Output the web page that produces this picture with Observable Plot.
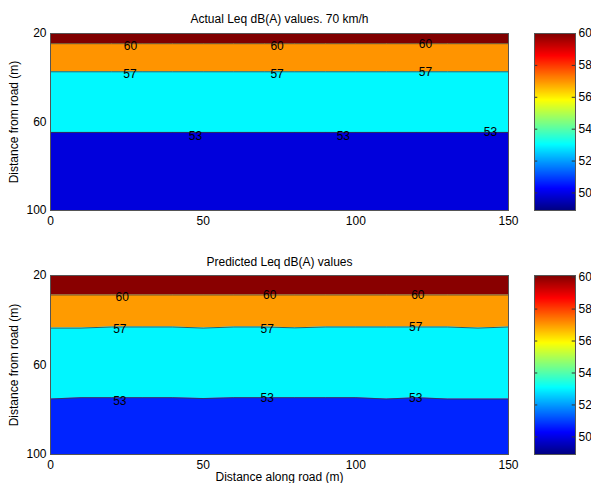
<!DOCTYPE html>
<html><head><meta charset="utf-8">
<script src="https://cdn.jsdelivr.net/npm/d3@7"></script>
<script src="https://cdn.jsdelivr.net/npm/@observablehq/plot@0.6"></script>
<style>
html,body{margin:0;padding:0;background:#fff;}
#wrap{position:relative;width:591px;height:483px;overflow:hidden;font-family:"Liberation Sans",Arial,sans-serif;}
#wrap svg{position:absolute;}
</style></head><body><div id="wrap"></div>
<script>
// ---- data ----
const roadX = [0,10,20,30,40,50,60,70,80,90,100,110,120,130,140,150];

const actualB60 = [24.6,24.6,24.6,24.6,24.6,24.6,24.6,24.6,24.6,24.6,24.6,24.6,24.6,24.6,24.6,24.6];
const actualB57 = [37.3,37.3,37.3,37.3,37.3,37.3,37.3,37.3,37.3,37.3,37.3,37.3,37.3,37.3,37.3,37.3];
const actualB53 = [64.7,64.7,64.7,64.7,64.7,64.7,64.7,64.7,64.7,64.7,64.7,64.7,64.7,64.7,64.7,64.7];
const actualBandLevels = [60, 57, 53, 49.9];

const predB60 = [28.7,28.7,28.7,28.7,28.7,28.7,28.7,28.7,28.7,28.7,28.7,28.7,28.7,28.7,28.7,28.7];
const predB57 = [43.5,43.5,43.0,43.0,43.0,43.5,43.0,43.0,43.4,43.0,43.0,43.0,43.0,43.0,43.5,43.0];
const predB53 = [75.2,74.6,74.6,74.6,74.6,75.0,74.6,74.6,74.6,74.6,74.6,75.2,74.6,75.2,75.2,75.2];
const predBandLevels = [60, 57, 53, 50.7];

const contourLevels = [60, 57, 53];

const actualLabelX = [26.2,74.2,122.8, 26.0,74.2,122.8, 47.5,95.9,144.1];
const actualLabelY = [25.9,25.9,24.8, 38.3,38.3,37.4, 66.3,66.3,64.5];
const actualLabelText = ["60","60","60","57","57","57","53","53","53"];

const predLabelX = [23.5,71.8,120.3, 22.7,71.0,119.6, 22.7,71.0,119.6];
const predLabelY = [29.8,28.6,28.7, 44.2,44.2,43.2, 76.2,75.0,75.0];
const predLabelText = ["60","60","60","57","57","57","53","53","53"];

const xTicks = [0, 50, 100, 150];
const yTicks = [20, 60, 100];
const cbTicks = [50, 52, 54, 56, 58, 60];
const actualRange = [48.9, 60.0];
const predRange = [48.9, 60.1];
const jetStops = [0, 0.125, 0.375, 0.625, 0.875, 1];
const jetColors = ["#000080", "#0000ff", "#00ffff", "#ffff00", "#ff0000", "#800000"];

const titleTop = "Actual Leq dB(A) values. 70 km/h";
const titleBottom = "Predicted Leq dB(A) values";
const yLabel = "Distance from road (m)";
const xLabel = "Distance along road (m)";

// ---- helpers ----
const FONT = "'Liberation Sans', Arial, sans-serif";
function colorScale(range) {
  const [lo, hi] = range;
  return {type: "linear", domain: jetStops.map(s => lo + s * (hi - lo)), range: jetColors, interpolate: "rgb"};
}
function buildBands(b60, b57, b53, levels) {
  const top = roadX.map(() => 20), bottom = roadX.map(() => 100);
  const bounds = [top, b60, b57, b53, bottom];
  const rows = [];
  for (let k = 0; k < 4; k++) roadX.forEach((x, i) => rows.push({band: k, x, y1: bounds[k][i], y2: bounds[k + 1][i], level: levels[k]}));
  return rows;
}
function buildLines(b60, b57, b53) {
  const rows = [];
  [b60, b57, b53].forEach((b, j) => roadX.forEach((x, i) => rows.push({level: contourLevels[j], x, y: b[i]})));
  return rows;
}
function mainChart({height, mt, mb, range, b60, b57, b53, levels, lx, ly, lt, title, titleDy, withXLabel}) {
  const labels = lx.map((x, i) => ({x, y: ly[i], t: lt[i]}));
  const marks = [
    Plot.areaY(buildBands(b60, b57, b53, levels), {x: "x", y1: "y1", y2: "y2", z: "band", fill: "level"}),
    Plot.line(buildLines(b60, b57, b53), {x: "x", y: "y", z: "level", stroke: "#3a3a3a", strokeWidth: 0.8}),
    Plot.text(labels, {x: "x", y: "y", text: "t", fill: "black", fontSize: 12}),
    Plot.frame({stroke: "#555"}),
    Plot.axisX({ticks: xTicks, tickSize: 0, tickPadding: 6, label: null, fontSize: 12}),
    Plot.axisY({ticks: yTicks, tickSize: 0, tickPadding: 4, label: null, fontSize: 12}),
    Plot.text([title], {text: d => d, frameAnchor: "top", dy: titleDy, lineAnchor: "middle", fontSize: 12, fill: "black"}),
    Plot.text([yLabel], {text: d => d, frameAnchor: "left", dx: -36, rotate: -90, textAnchor: "middle", lineAnchor: "middle", fontSize: 12, fill: "black"})
  ];
  if (withXLabel) marks.push(Plot.text([xLabel], {text: d => d, frameAnchor: "bottom", dy: 23, lineAnchor: "middle", fontSize: 12, fill: "black"}));
  return Plot.plot({
    width: 591, height, marginTop: mt, marginBottom: mb, marginLeft: 50, marginRight: 83,
    x: {domain: [0, 150]}, y: {domain: [20, 100], reverse: true},
    color: colorScale(range),
    style: {fontFamily: FONT, fontSize: "12px", color: "black", background: "transparent"},
    marks
  });
}
function colorbar({height, mt, mb, range}) {
  const [lo, hi] = range;
  return Plot.plot({
    width: 57, height, marginTop: mt, marginBottom: mb, marginLeft: 0, marginRight: 16,
    x: {domain: [0, 1], axis: null}, y: {domain: [lo, hi]},
    color: colorScale(range),
    style: {fontFamily: FONT, fontSize: "12px", color: "black", background: "transparent", overflow: "visible"},
    marks: [
      Plot.raster({x1: 0, x2: 1, y1: lo, y2: hi, width: 1, height: 256, fill: (x, y) => y}),
      Plot.ruleY(cbTicks, {y: d => d, x1: 0, x2: 0.08, stroke: "#333"}),
      Plot.ruleY(cbTicks, {y: d => d, x1: 0.92, x2: 1, stroke: "#333"}),
      Plot.frame({stroke: "#555"}),
      Plot.axisY({anchor: "right", ticks: cbTicks, tickSize: 0, tickPadding: 3, label: null, fontSize: 12})
    ]
  });
}
const wrap = document.getElementById("wrap");
function place(el, left, top) { el.style.left = left + "px"; el.style.top = top + "px"; wrap.appendChild(el); }

place(mainChart({height: 241, mt: 33, mb: 31, range: actualRange, b60: actualB60, b57: actualB57, b53: actualB53,
  levels: actualBandLevels, lx: actualLabelX, ly: actualLabelY, lt: actualLabelText, title: titleTop, titleDy: -14, withXLabel: false}), 0, 0);
place(colorbar({height: 241, mt: 33, mb: 31, range: actualRange}), 534, 0);
place(mainChart({height: 242, mt: 34, mb: 29, range: predRange, b60: predB60, b57: predB57, b53: predB53,
  levels: predBandLevels, lx: predLabelX, ly: predLabelY, lt: predLabelText, title: titleBottom, titleDy: -13, withXLabel: true}), 0, 241);
place(colorbar({height: 242, mt: 34, mb: 29, range: predRange}), 534, 241);
</script></body></html>
